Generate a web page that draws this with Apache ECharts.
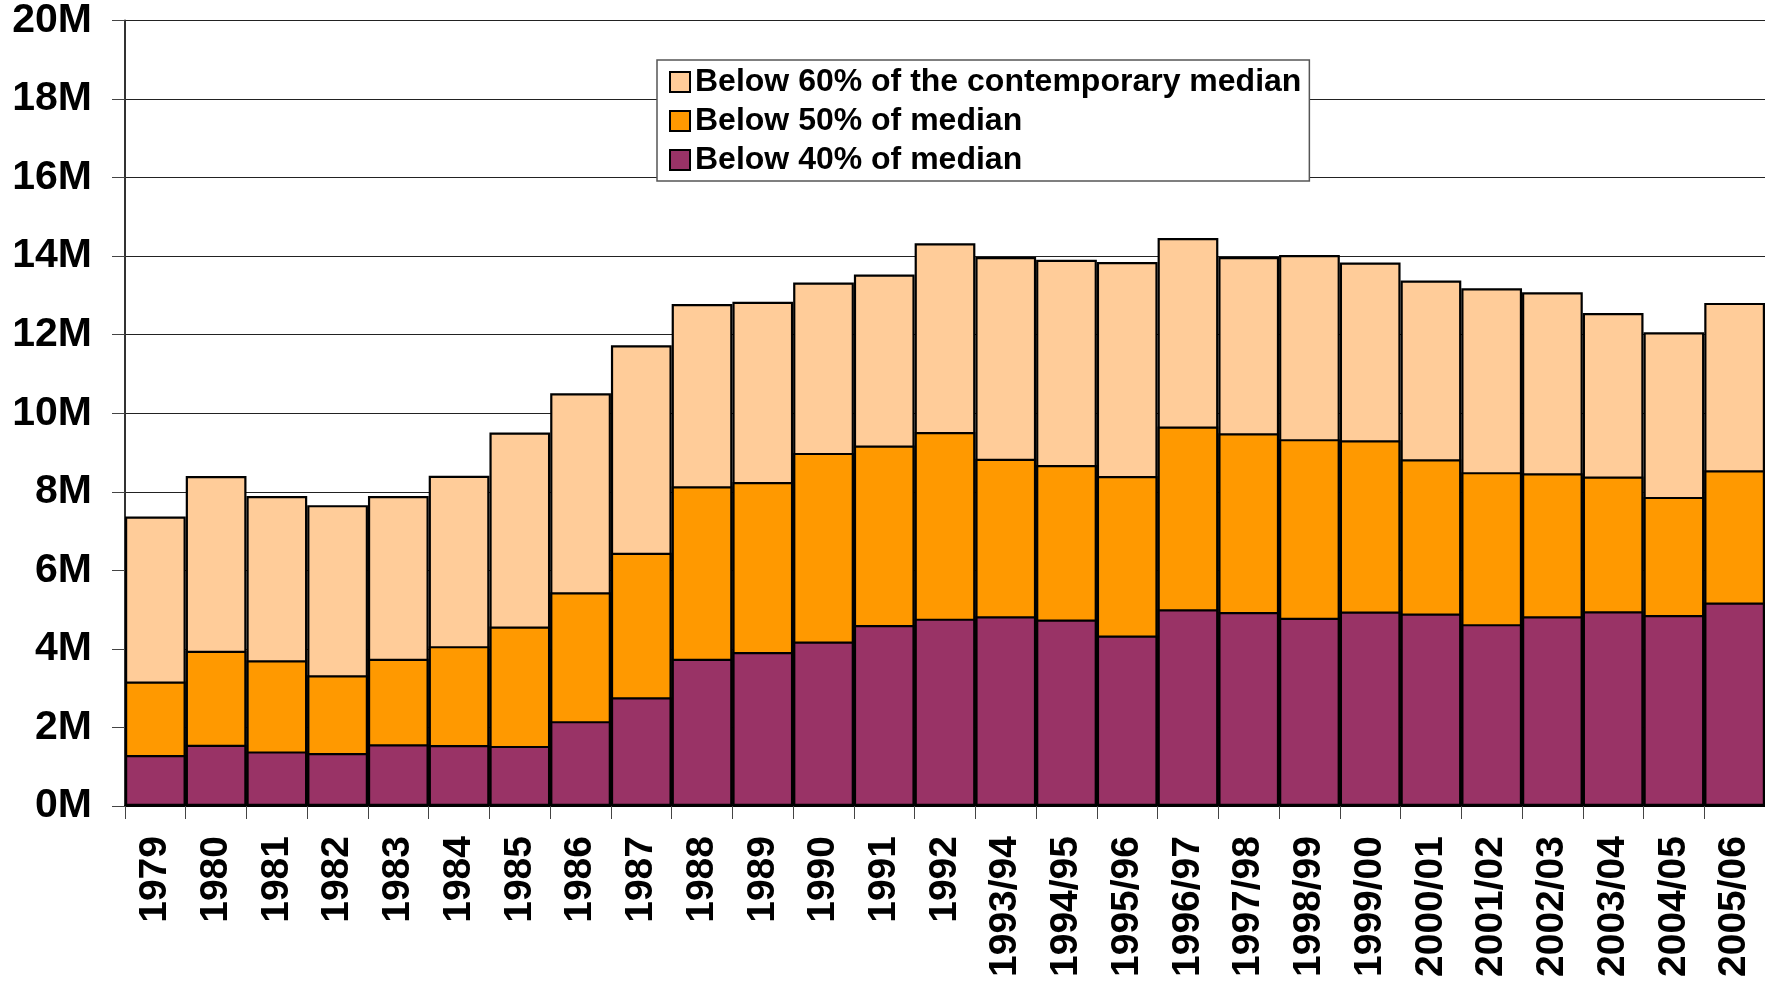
<!DOCTYPE html>
<html>
<head>
<meta charset="utf-8">
<script src="https://cdn.jsdelivr.net/npm/echarts@6/dist/echarts.min.js"></script>
<style>
  html, body { margin: 0; padding: 0; background: #ffffff; }
  #chart { width: 1765px; height: 988px; }
</style>
</head>
<body>
<div id="chart"></div>
<script>
// Categories (years)
const categories = ['1979','1980','1981','1982','1983','1984','1985','1986','1987','1988','1989','1990','1991','1992',
  '1993/94','1994/95','1995/96','1996/97','1997/98','1998/99','1999/00','2000/01','2001/02','2002/03','2003/04','2004/05','2005/06'];

// Number of people (millions) below each threshold
const below60 = [7.37, 8.40, 7.89, 7.66, 7.89, 8.41, 9.51, 10.51, 11.73, 12.78, 12.84, 13.33, 13.53, 14.33,
  13.98, 13.91, 13.85, 14.46, 13.98, 14.03, 13.84, 13.38, 13.18, 13.08, 12.55, 12.06, 12.81];
const below50 = [3.17, 3.95, 3.71, 3.33, 3.75, 4.07, 4.57, 5.44, 6.45, 8.14, 8.25, 8.99, 9.18, 9.52,
  8.84, 8.68, 8.40, 9.66, 9.49, 9.34, 9.31, 8.83, 8.50, 8.47, 8.39, 7.87, 8.55];
const below40 = [1.30, 1.56, 1.39, 1.35, 1.57, 1.55, 1.53, 2.16, 2.77, 3.75, 3.92, 4.19, 4.61, 4.77,
  4.83, 4.75, 4.34, 5.01, 4.94, 4.79, 4.95, 4.90, 4.63, 4.83, 4.96, 4.86, 5.18];

const seriesNames = ['Below 60% of the contemporary median', 'Below 50% of median', 'Below 40% of median'];
const seriesColors = ['#FFCC99', '#FF9900', '#993366'];
const seriesData = [below60, below50, below40];

const FONT = '"Liberation Sans", Arial, sans-serif';

const chart = echarts.init(document.getElementById('chart'), null, { renderer: 'canvas' });

const series = seriesData.map((d, i) => ({
  name: seriesNames[i],
  type: 'bar',
  data: d,
  barWidth: '100%',
  barGap: '-100%',
  barCategoryGap: 0,
  z: 2 + i,
  itemStyle: { color: seriesColors[i], borderColor: '#000', borderWidth: 2.2 },
  emphasis: { disabled: true }
}));

chart.setOption({
  animation: false,
  backgroundColor: '#ffffff',
  grid: { left: 125, right: 0, top: 19, bottom: 182, containLabel: false },
  legend: {
    orient: 'vertical',
    left: 657,
    top: 60,
    width: 653,
    padding: [6, 8, 5, 12],
    backgroundColor: '#ffffff',
    borderColor: '#555',
    borderWidth: 1.5,
    itemWidth: 20,
    itemHeight: 20,
    itemGap: 7,
    icon: 'rect',
    textStyle: { fontFamily: FONT, fontWeight: 'bold', fontSize: 32, lineHeight: 30, color: '#000' },
    data: seriesNames
  },
  xAxis: {
    type: 'category',
    data: categories,
    boundaryGap: true,
    axisLine: { lineStyle: { color: '#000', width: 2 } },
    axisTick: { show: true, length: 13, lineStyle: { color: '#444', width: 1 } },
    axisLabel: {
      rotate: 90,
      interval: 0,
      margin: 30,
      fontFamily: FONT,
      fontWeight: 'bold',
      fontSize: 39,
      color: '#000'
    }
  },
  yAxis: {
    type: 'value',
    min: 0,
    max: 20,
    interval: 2,
    axisLine: { show: true, lineStyle: { color: '#333', width: 2 } },
    axisTick: { show: true, length: 13, lineStyle: { color: '#444', width: 1 } },
    splitLine: { show: true, lineStyle: { color: '#222', width: 1 } },
    axisLabel: {
      formatter: '{value}M',
      margin: 33,
      fontFamily: FONT,
      fontWeight: 'bold',
      fontSize: 41,
      color: '#000'
    }
  },
  series: series
});
</script>
</body>
</html>
